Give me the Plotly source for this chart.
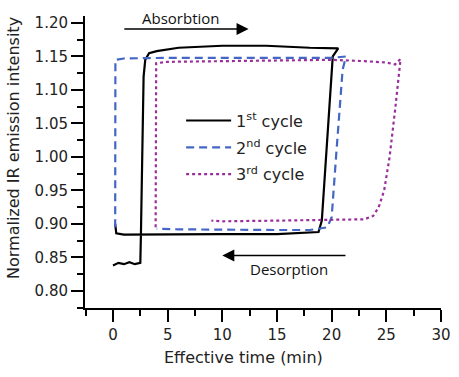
import plotly.graph_objects as go

# Cycle 1 (absorption forward, then desorption backward in effective time)
c1_x = [0.0, 0.5, 1.0, 1.5, 2.0, 2.5, 2.55, 2.65, 2.8, 2.95, 3.3, 4.0, 6.0, 10.0, 14.0, 18.0, 20.0, 20.6,
        20.1, 19.5, 19.1, 18.8, 15.0, 10.0, 5.0, 3.0, 1.0, 0.3, 0.2]
c1_y = [0.838, 0.842, 0.840, 0.843, 0.840, 0.842, 0.880, 1.000, 1.120, 1.145, 1.155, 1.158, 1.163, 1.166, 1.166, 1.163, 1.162, 1.162,
        1.150, 1.000, 0.905, 0.888, 0.885, 0.885, 0.885, 0.884, 0.884, 0.886, 0.900]

# Cycle 2
c2_x = [0.2, 0.22, 1.0, 5.0, 10.0, 15.0, 20.0, 21.3, 21.0, 20.4, 20.0, 19.6, 18.0, 15.0, 10.0, 6.0, 4.0]
c2_y = [0.895, 1.145, 1.147, 1.148, 1.148, 1.148, 1.148, 1.150, 1.130, 1.000, 0.910, 0.895, 0.891, 0.891, 0.891, 0.892, 0.893]

# Cycle 3
c3_x = [3.9, 3.95, 5.0, 10.0, 15.0, 20.0, 23.0, 25.0, 25.8, 26.0, 26.3, 26.2, 25.8, 25.3, 24.8, 24.3, 23.8, 23.0, 20.0, 15.0, 10.0, 9.0]
c3_y = [0.895, 1.140, 1.142, 1.143, 1.144, 1.145, 1.143, 1.141, 1.138, 1.142, 1.146, 1.130, 1.070, 1.000, 0.950, 0.925, 0.912, 0.907, 0.906, 0.905, 0.904, 0.905]

names = ["1<sup>st</sup> cycle", "2<sup>nd</sup> cycle", "3<sup>rd</sup> cycle"]
x_ticks = [0, 5, 10, 15, 20, 25, 30]
y_ticks = [0.80, 0.85, 0.90, 0.95, 1.00, 1.05, 1.10, 1.15, 1.20]

fig = go.Figure()
fig.add_trace(go.Scatter(x=c1_x, y=c1_y, mode="lines", name=names[0], legendgroup="a",
                         line=dict(color="#000000", width=2.2)))
fig.add_trace(go.Scatter(x=c2_x, y=c2_y, mode="lines", name=names[1], legendgroup="b",
                         line=dict(color="#4466c4", width=2.2, dash="8px,5px")))
fig.add_trace(go.Scatter(x=c3_x, y=c3_y, mode="lines", name=names[2], legendgroup="c",
                         line=dict(color="#9a2f9c", width=2.2, dash="dot")))

axis_common = dict(showline=True, linecolor="black", linewidth=2, ticks="outside",
                   ticklen=12, tickwidth=2, tickcolor="black", showgrid=False, zeroline=False,
                   tickfont=dict(family="DejaVu Sans", size=15, color="#222"),
                   mirror=False, automargin=False)

fig.update_xaxes(range=[-2.56, 30], tickvals=x_ticks,
                 minor=dict(dtick=2.5, tick0=0, ticks="outside", ticklen=6, tickwidth=2, tickcolor="black"),
                 **axis_common)
fig.update_yaxes(range=[0.7746, 1.2104], tickvals=y_ticks, tickformat=".2f",
                 minor=dict(dtick=0.025, tick0=0.8, ticks="outside", ticklen=6, tickwidth=2, tickcolor="black"),
                 **axis_common)

# axis titles placed as annotations (paper coordinates relative to plot area)
title_font = dict(family="DejaVu Sans", size=16, color="#222")
fig.add_annotation(text="Effective time (min)", xref="paper", yref="paper",
                   x=(243 - 85) / 356, y=-(357 - 308) / 292, showarrow=False,
                   xanchor="center", yanchor="middle", font=title_font)
fig.add_annotation(text="Normalized IR emission intensity", xref="paper", yref="paper",
                   x=-(85 - 13) / 356, y=1 - (148 - 16) / 292, showarrow=False, textangle=-90,
                   xanchor="center", yanchor="middle", font=title_font)

fig.add_annotation(x=12.4, y=1.191, ax=0.9, ay=1.191, xref="x", yref="y", axref="x", ayref="y",
                   showarrow=True, arrowhead=2, arrowsize=1.6, arrowwidth=1.5, arrowcolor="black", text="")
fig.add_annotation(x=6.2, y=1.2075, xref="x", yref="y", text="Absorbtion", showarrow=False,
                   font=dict(family="Open Sans", size=15, color="#111"))
fig.add_annotation(x=10.0, y=0.853, ax=21.4, ay=0.853, xref="x", yref="y", axref="x", ayref="y",
                   showarrow=True, arrowhead=2, arrowsize=1.6, arrowwidth=1.5, arrowcolor="black", text="")
fig.add_annotation(x=16.1, y=0.833, xref="x", yref="y", text="Desorption", showarrow=False,
                   font=dict(family="Open Sans", size=15, color="#111"))

fig.update_layout(
    width=459, height=377,
    margin=dict(l=85, r=18, t=16, b=69),
    paper_bgcolor="white", plot_bgcolor="white",
    showlegend=True,
    legend=dict(x=0.27, y=0.70, xanchor="left", yanchor="top", bgcolor="rgba(0,0,0,0)",
                font=dict(family="DejaVu Sans", size=16, color="#222"), tracegroupgap=3,
                itemwidth=45),
)

fig.write_html("out.html", config={"displayModeBar": False},
               post_script="document.body.style.margin='0';document.body.style.overflow='hidden';")
